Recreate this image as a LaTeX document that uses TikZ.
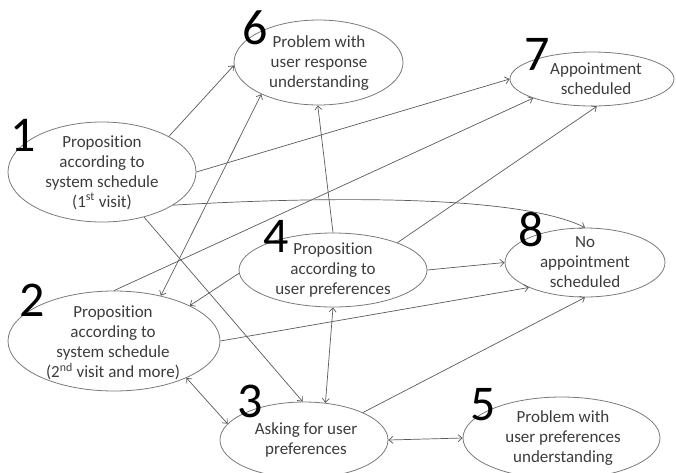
\documentclass[tikz,border=0pt]{standalone}
\usepackage{fontspec}
\setmainfont{Carlito}[Ligatures=NoCommon]
\usetikzlibrary{shapes.geometric,arrows.meta}
\definecolor{edgegray}{HTML}{5A5A5A}
\definecolor{ringgray}{HTML}{7A7A7A}
\definecolor{textgray}{HTML}{3C3C3C}

\begin{document}
\begin{tikzpicture}[x=1pt,y=-1pt,
  >={Straight Barb[length=4pt,width=7pt]},
  state/.style={ellipse, draw=ringgray, line width=0.8pt, inner sep=0pt},
  caption/.style={inner sep=0pt, align=center, text=textgray, font=\fontsize{17}{20}\selectfont},
  tag/.style={inner sep=0pt, text=black, font=\fontsize{50}{50}\selectfont},
  link/.style={draw=edgegray, line width=0.7pt, ->},
  both/.style={draw=edgegray, line width=0.7pt, <->}
]
\useasboundingbox (0,0) rectangle (676,472);

% states
\node[state, minimum width=188pt, minimum height=100pt] (e1) at (102,172) {};
\node[state, minimum width=169pt, minimum height=85pt]  (e6) at (318.5,62.5) {};
\node[state, minimum width=164pt, minimum height=54pt]  (e7) at (592,79) {};
\node[state, minimum width=160pt, minimum height=69pt]  (e8) at (585,262.5) {};
\node[state, minimum width=188pt, minimum height=74pt]  (e4) at (333,270) {};
\node[state, minimum width=212pt, minimum height=100pt] (e2) at (114,341) {};
\node[state, minimum width=168pt, minimum height=76pt]  (e3) at (304,440) {};
\node[state, minimum width=197pt, minimum height=82pt]  (e5) at (561.5,438) {};

% state texts
\node[caption] (t1) at (102,172.5) {Proposition\\according to\\system schedule\\(1\textsuperscript{st} visit)};
\node[caption] (t6) at (319,63) {Problem with\\user response\\understanding};
\node[caption] (t7) at (596,79) {Appointment\\scheduled};
\node[caption] (t8) at (585,262) {No\\appointment\\scheduled};
\node[caption] (t4) at (333,270) {Proposition\\according to\\user preferences};
\node[caption] (t2) at (113,343) {Proposition\\according to\\system schedule\\(2\textsuperscript{nd} visit and more)};
\node[caption] (t3) at (306,440) {Asking for user\\preferences};
\node[caption] (t5) at (563,438) {Problem with\\user preferences\\understanding};

% state numbers
\node[tag] (n1) at (23,135) {1};
\node[tag] (n2) at (32,300) {2};
\node[tag] (n3) at (250,401) {3};
\node[tag] (n4) at (276,236) {4};
\node[tag] (n5) at (483,405) {5};
\node[tag] (n6) at (255,28) {6};
\node[tag] (n7) at (537,54) {7};
\node[tag] (n8) at (531,230) {8};

% transitions
\draw[link] (e1.28) -- (e6.182);
\draw[link] (e1.0) -- (e7.180);
\draw[link] (e1.-25) .. controls (330,196) and (520,195) .. (e8.90);
\draw[link] (e1.-47) -- (e3.92);
\draw[both] (e2.44) -- (e6.209);
\draw[link] (e2.90) -- (e7.198);
\draw[link] (e4.182) -- (e2.25);
\draw[link] (e4.90) -- (e6.-91);
\draw[link] (e4.23) -- (e7.-80);
\draw[link] (e4.0) -- (e8.180);
\draw[link] (e2.0) -- (e8.204);
\draw[both] (e4.-90) -- (e3.60);
\draw[both] (e2.-27) -- (e3.168);
\draw[link] (e3.25) -- (e8.-90);
\draw[both] (e3.0) -- (e5.180);
\end{tikzpicture}
\end{document}
